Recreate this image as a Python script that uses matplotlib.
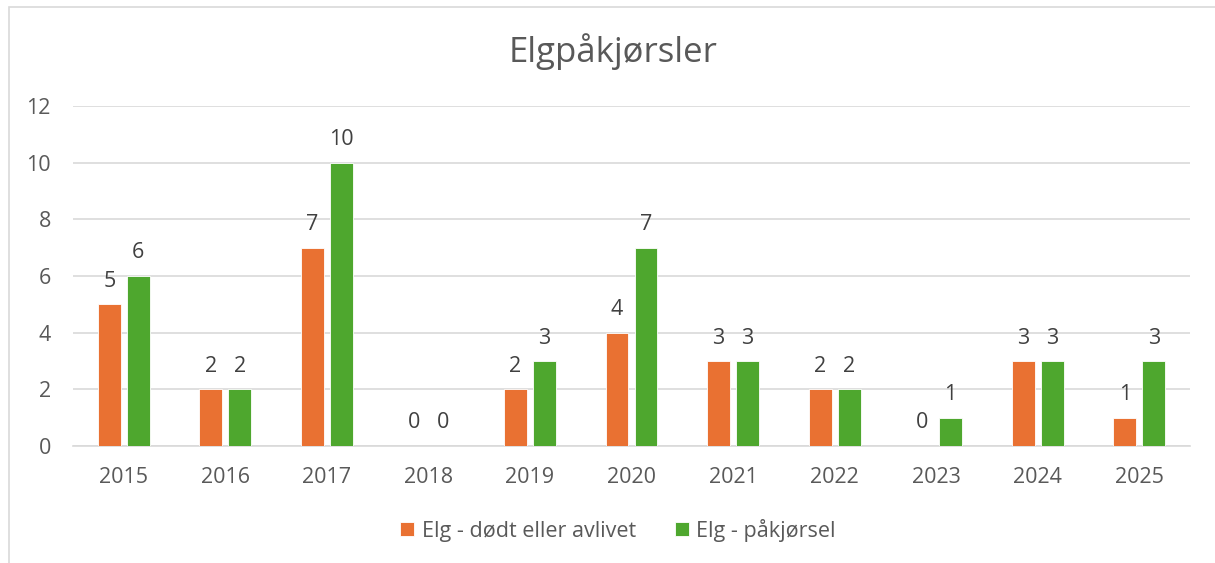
import matplotlib
matplotlib.use("Agg")
import matplotlib.pyplot as plt
import numpy as np
from matplotlib.patches import Rectangle

# Data
years = ["2015", "2016", "2017", "2018", "2019", "2020", "2021", "2022", "2023", "2024", "2025"]
dead = [5, 2, 7, 0, 2, 4, 3, 2, 0, 3, 1]
hit = [6, 2, 10, 0, 3, 7, 3, 2, 1, 3, 3]
series_names = ["Elg - dødt eller avlivet", "Elg - påkjørsel"]
title = "Elgpåkjørsler"

ORANGE = "#E97132"
GREEN = "#4EA72E"
TEXT = "#595959"
LABEL = "#404040"
GRID = "#D9D9D9"
FS = 15.5

plt.rcParams["font.family"] = ["Open Sans", "DejaVu Sans"]

W, H = 1215, 563
fig = plt.figure(figsize=(W / 100, H / 100), dpi=100)

# chart border (only top and left edges are visible in the crop)
fig.add_artist(Rectangle((8.5 / W, -0.1), 1.2, 1.1 - 7.5 / H, transform=fig.transFigure,
                         fill=False, edgecolor=GRID, linewidth=1.2))

ax = fig.add_axes([73 / W, (H - 446) / H, (1190 - 73) / W, (446 - 106) / H])

x = np.arange(len(years))
width = 0.226
off = 0.143
b1 = ax.bar(x - off, dead, width, color=ORANGE, edgecolor="white", linewidth=0.6,
            label=series_names[0], zorder=3)
b2 = ax.bar(x + off, hit, width, color=GREEN, edgecolor="white", linewidth=0.6,
            label=series_names[1], zorder=3)

for bars in (b1, b2):
    ax.bar_label(bars, padding=9, fontsize=FS, color=LABEL)

ax.set_xlim(-0.5, len(years) - 0.5)
ax.set_ylim(0, 12)
ax.set_yticks(range(0, 13, 2))
ax.set_xticks(x)
ax.set_xticklabels(years)
ax.yaxis.grid(True, color=GRID, linewidth=1.2, zorder=0)
ax.set_axisbelow(True)
for side in ("top", "right", "left"):
    ax.spines[side].set_visible(False)
ax.spines["bottom"].set_color(GRID)
ax.spines["bottom"].set_linewidth(1.2)
ax.tick_params(axis="both", length=0, labelsize=FS, colors=TEXT)
ax.tick_params(axis="x", pad=15)
ax.tick_params(axis="y", pad=16)

fig.text(613 / W, 1 - 52 / H, title, ha="center", va="center", fontsize=25, color=TEXT)

leg = fig.legend(handles=[b1, b2], labels=series_names, loc="center",
                 bbox_to_anchor=(618 / W, 1 - 530 / H), ncol=2, frameon=False,
                 fontsize=FS, handlelength=0.65, handleheight=0.65,
                 handletextpad=0.35, columnspacing=1.8)
for t in leg.get_texts():
    t.set_color(TEXT)

fig.savefig("out.png", dpi=100)
